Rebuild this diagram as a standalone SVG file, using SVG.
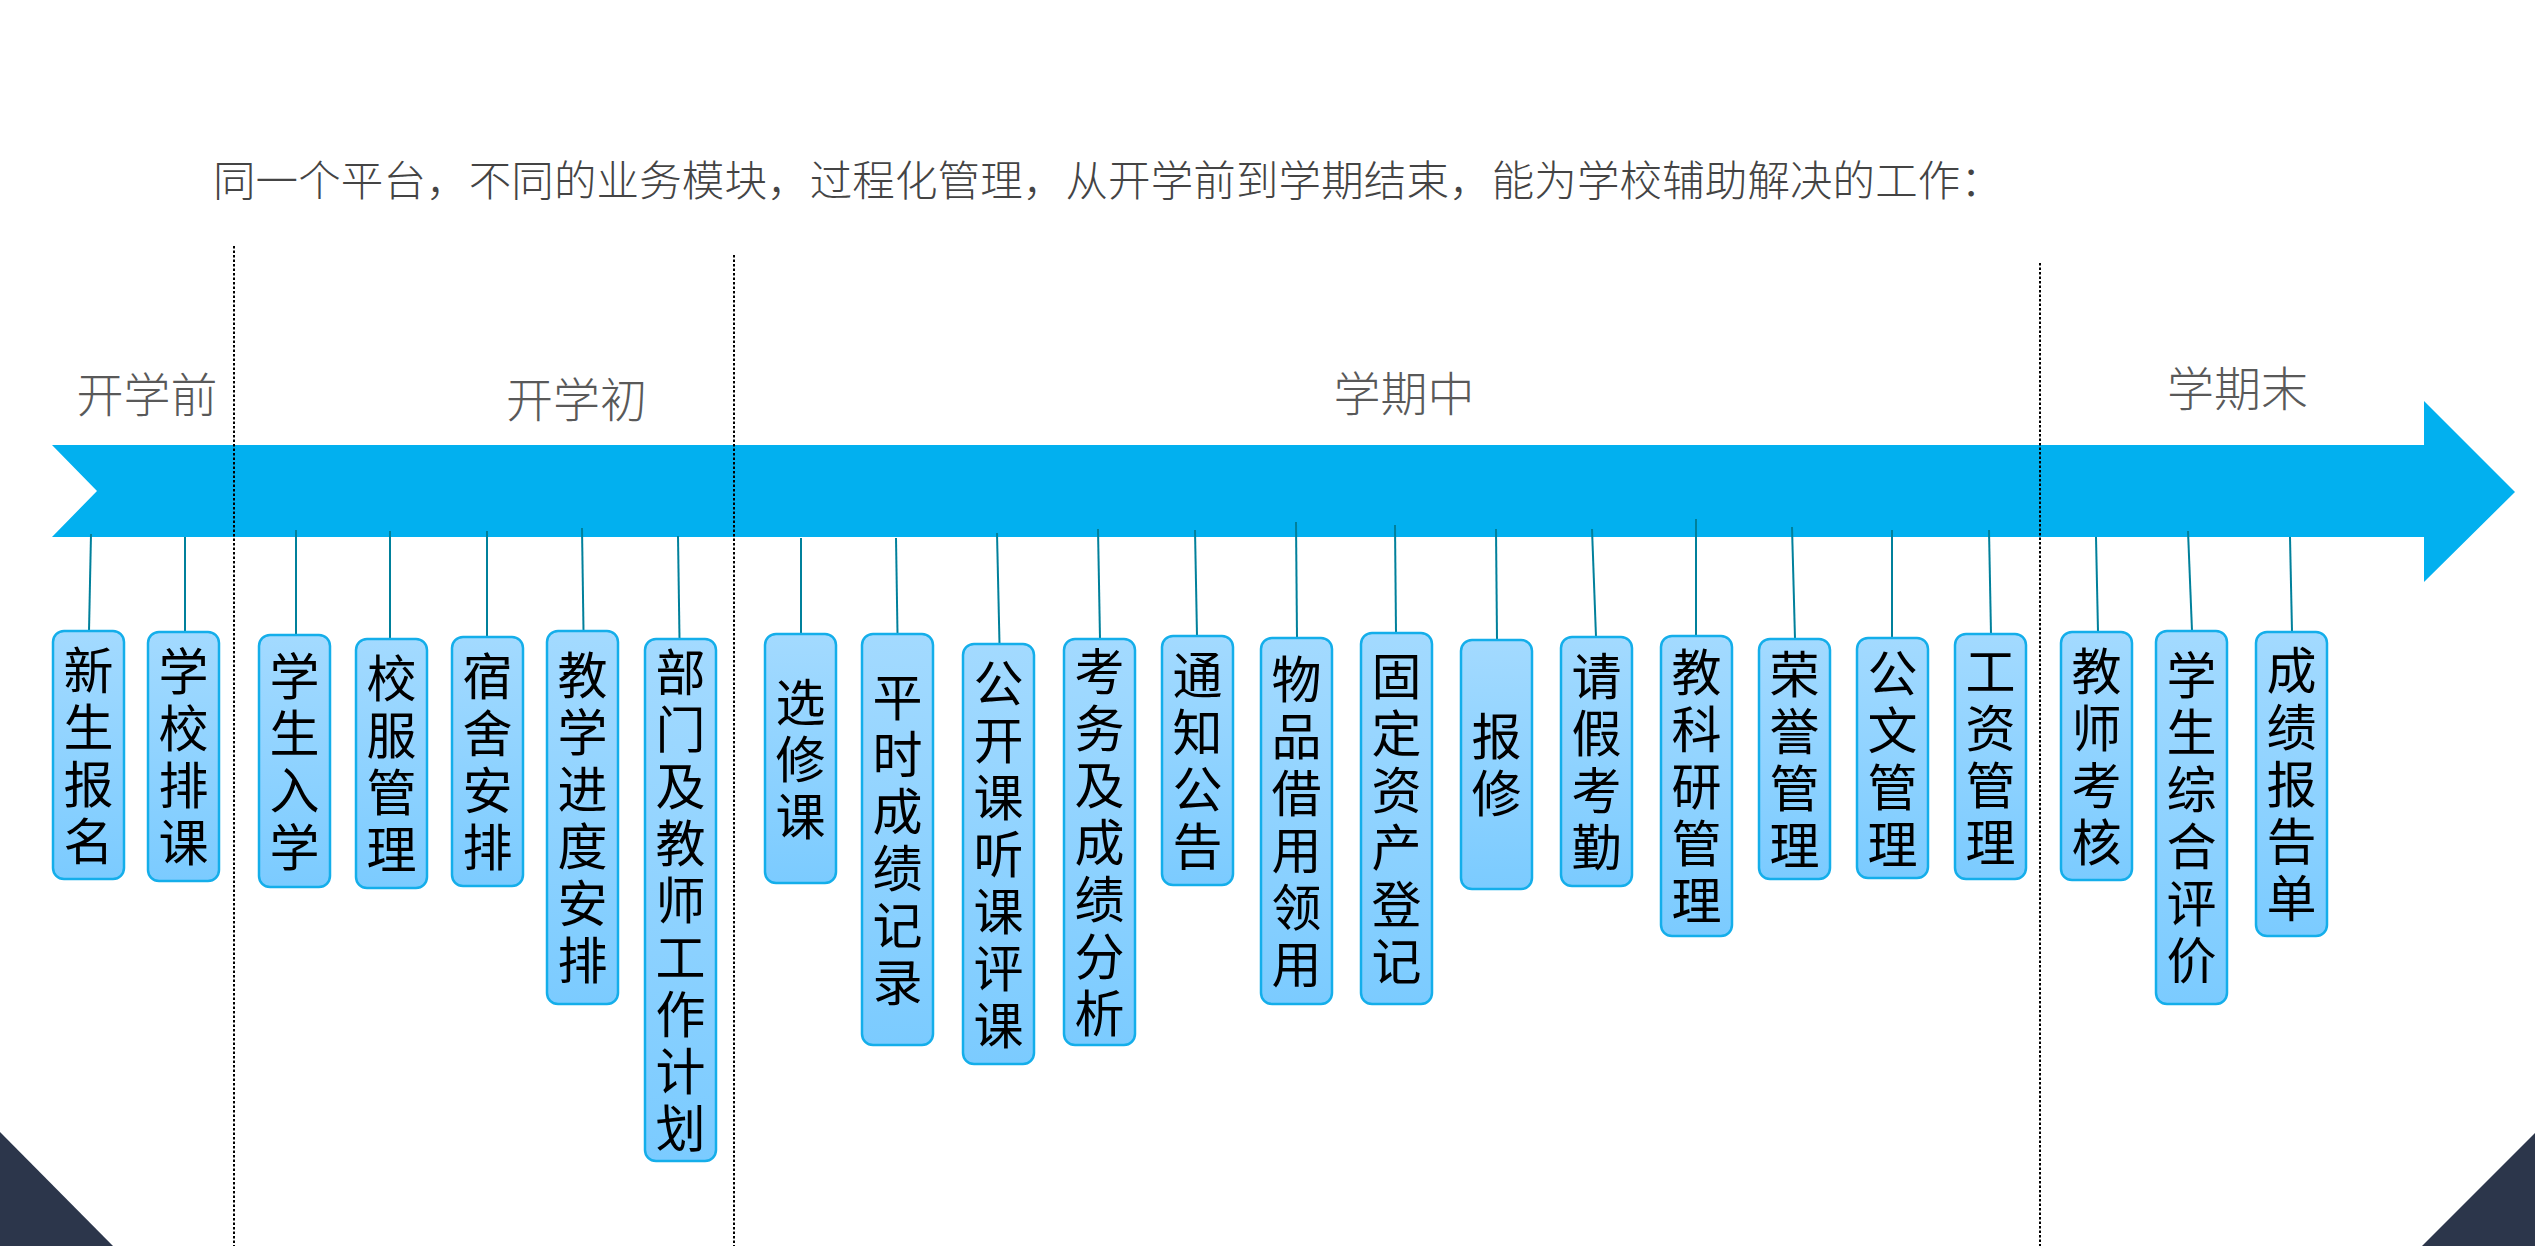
<svg xmlns="http://www.w3.org/2000/svg" width="2535" height="1246" viewBox="0 0 2535 1246">
<defs>
<linearGradient id="boxGrad" x1="0" y1="0" x2="0" y2="1">
<stop offset="0" stop-color="#A3DAFF"/>
<stop offset="1" stop-color="#7BCBFF"/>
</linearGradient>
<style>
.title{font-family:"Noto Sans CJK SC","Noto Sans",sans-serif;font-size:42.5px;font-weight:300;fill:#444;}
.phase{font-family:"Noto Sans CJK SC","Noto Sans",sans-serif;font-size:47px;font-weight:300;fill:#595959;text-anchor:middle;}
.box{fill:url(#boxGrad);stroke:#14AEEA;stroke-width:2.5;}
.lbl{font-family:"Noto Sans CJK SC","Noto Sans",sans-serif;font-size:50px;fill:#000;text-anchor:middle;}
.conn{stroke:#00809B;stroke-width:2;fill:none;}
.sep{stroke:#000;stroke-width:2;stroke-dasharray:2.5 2;fill:none;}
</style>
</defs>
<rect width="2535" height="1246" fill="#fff"/>
<polygon points="0,1132 113,1246 0,1246" fill="#2C364B"/>
<polygon points="2535,1133 2535,1246 2422,1246" fill="#2C364B"/>
<text class="title" x="213" y="196" textLength="1790" lengthAdjust="spacing">同一个平台，不同的业务模块，过程化管理，从开学前到学期结束，能为学校辅助解决的工作：</text>
<g id="phases">
<text class="phase" x="147" y="412">开学前</text>
<text class="phase" x="576.5" y="417">开学初</text>
<text class="phase" x="1404" y="411">学期中</text>
<text class="phase" x="2237.5" y="406">学期末</text>
</g>
<g id="timeline">
<polygon points="52,445 2424,445 2424,401 2515,492 2424,582 2424,537 52,537 97,491" fill="#02B0EF"/>
</g>
<g id="connectors">
<line class="conn" x1="91" y1="534" x2="89" y2="631"/>
<line class="conn" x1="185" y1="537" x2="185" y2="632"/>
<line class="conn" x1="296" y1="530" x2="296" y2="635"/>
<line class="conn" x1="390" y1="531" x2="390" y2="639"/>
<line class="conn" x1="487" y1="531" x2="487" y2="637"/>
<line class="conn" x1="582" y1="528" x2="583.5" y2="631"/>
<line class="conn" x1="678" y1="536" x2="679.5" y2="639"/>
<line class="conn" x1="801" y1="538" x2="801" y2="634"/>
<line class="conn" x1="896" y1="538" x2="897.5" y2="634"/>
<line class="conn" x1="997" y1="533" x2="999.5" y2="644"/>
<line class="conn" x1="1098" y1="529" x2="1100" y2="639"/>
<line class="conn" x1="1195" y1="530" x2="1197" y2="636"/>
<line class="conn" x1="1296" y1="522" x2="1297" y2="638"/>
<line class="conn" x1="1395" y1="525" x2="1396" y2="633"/>
<line class="conn" x1="1496" y1="529" x2="1497" y2="640"/>
<line class="conn" x1="1592" y1="529" x2="1596" y2="637"/>
<line class="conn" x1="1696" y1="519" x2="1696" y2="636"/>
<line class="conn" x1="1792" y1="527" x2="1795" y2="639"/>
<line class="conn" x1="1892" y1="530" x2="1892" y2="638"/>
<line class="conn" x1="1989" y1="530" x2="1991" y2="634"/>
<line class="conn" x1="2096" y1="537" x2="2098" y2="632"/>
<line class="conn" x1="2188" y1="531" x2="2192" y2="631"/>
<line class="conn" x1="2290" y1="537" x2="2292" y2="632"/>
</g>
<g id="separators">
<line class="sep" x1="234" y1="246" x2="234" y2="1246"/>
<line class="sep" x1="734" y1="255" x2="734" y2="1246"/>
<line class="sep" x1="2040" y1="263" x2="2040" y2="1246"/>
</g>
<g id="n1"><rect class="box" x="53" y="631" width="71" height="248" rx="11"/><text class="lbl" y="688.5"><tspan x="88.5">新</tspan><tspan x="88.5" dy="57">生</tspan><tspan x="88.5" dy="57">报</tspan><tspan x="88.5" dy="57">名</tspan></text></g>
<g id="n2"><rect class="box" x="148" y="632" width="71" height="249" rx="11"/><text class="lbl" y="690"><tspan x="183.5">学</tspan><tspan x="183.5" dy="57">校</tspan><tspan x="183.5" dy="57">排</tspan><tspan x="183.5" dy="57">课</tspan></text></g>
<g id="n3"><rect class="box" x="259" y="635" width="71" height="252" rx="11"/><text class="lbl" y="694.5"><tspan x="294.5">学</tspan><tspan x="294.5" dy="57">生</tspan><tspan x="294.5" dy="57">入</tspan><tspan x="294.5" dy="57">学</tspan></text></g>
<g id="n4"><rect class="box" x="356" y="639" width="71" height="249" rx="11"/><text class="lbl" y="697"><tspan x="391.5">校</tspan><tspan x="391.5" dy="57">服</tspan><tspan x="391.5" dy="57">管</tspan><tspan x="391.5" dy="57">理</tspan></text></g>
<g id="n5"><rect class="box" x="452" y="637" width="71" height="249" rx="11"/><text class="lbl" y="695"><tspan x="487.5">宿</tspan><tspan x="487.5" dy="57">舍</tspan><tspan x="487.5" dy="57">安</tspan><tspan x="487.5" dy="57">排</tspan></text></g>
<g id="n6"><rect class="box" x="547" y="631" width="71" height="373" rx="11"/><text class="lbl" y="694"><tspan x="582.5">教</tspan><tspan x="582.5" dy="57">学</tspan><tspan x="582.5" dy="57">进</tspan><tspan x="582.5" dy="57">度</tspan><tspan x="582.5" dy="57">安</tspan><tspan x="582.5" dy="57">排</tspan></text></g>
<g id="n7"><rect class="box" x="645" y="639" width="71" height="522" rx="11"/><text class="lbl" y="691"><tspan x="680.5">部</tspan><tspan x="680.5" dy="57">门</tspan><tspan x="680.5" dy="57">及</tspan><tspan x="680.5" dy="57">教</tspan><tspan x="680.5" dy="57">师</tspan><tspan x="680.5" dy="57">工</tspan><tspan x="680.5" dy="57">作</tspan><tspan x="680.5" dy="57">计</tspan><tspan x="680.5" dy="57">划</tspan></text></g>
<g id="n8"><rect class="box" x="765" y="634" width="71" height="249" rx="11"/><text class="lbl" y="720.5"><tspan x="800.5">选</tspan><tspan x="800.5" dy="57">修</tspan><tspan x="800.5" dy="57">课</tspan></text></g>
<g id="n9"><rect class="box" x="862" y="634" width="71" height="411" rx="11"/><text class="lbl" y="716"><tspan x="897.5">平</tspan><tspan x="897.5" dy="57">时</tspan><tspan x="897.5" dy="57">成</tspan><tspan x="897.5" dy="57">绩</tspan><tspan x="897.5" dy="57">记</tspan><tspan x="897.5" dy="57">录</tspan></text></g>
<g id="n10"><rect class="box" x="963" y="644" width="71" height="420" rx="11"/><text class="lbl" y="702"><tspan x="998.5">公</tspan><tspan x="998.5" dy="57">开</tspan><tspan x="998.5" dy="57">课</tspan><tspan x="998.5" dy="57">听</tspan><tspan x="998.5" dy="57">课</tspan><tspan x="998.5" dy="57">评</tspan><tspan x="998.5" dy="57">课</tspan></text></g>
<g id="n11"><rect class="box" x="1064" y="639" width="71" height="406" rx="11"/><text class="lbl" y="690"><tspan x="1099.5">考</tspan><tspan x="1099.5" dy="57">务</tspan><tspan x="1099.5" dy="57">及</tspan><tspan x="1099.5" dy="57">成</tspan><tspan x="1099.5" dy="57">绩</tspan><tspan x="1099.5" dy="57">分</tspan><tspan x="1099.5" dy="57">析</tspan></text></g>
<g id="n12"><rect class="box" x="1162" y="636" width="71" height="249" rx="11"/><text class="lbl" y="694"><tspan x="1197.5">通</tspan><tspan x="1197.5" dy="57">知</tspan><tspan x="1197.5" dy="57">公</tspan><tspan x="1197.5" dy="57">告</tspan></text></g>
<g id="n13"><rect class="box" x="1261" y="638" width="71" height="366" rx="11"/><text class="lbl" y="697.5"><tspan x="1296.5">物</tspan><tspan x="1296.5" dy="57">品</tspan><tspan x="1296.5" dy="57">借</tspan><tspan x="1296.5" dy="57">用</tspan><tspan x="1296.5" dy="57">领</tspan><tspan x="1296.5" dy="57">用</tspan></text></g>
<g id="n14"><rect class="box" x="1361" y="633" width="71" height="371" rx="11"/><text class="lbl" y="695"><tspan x="1396.5">固</tspan><tspan x="1396.5" dy="57">定</tspan><tspan x="1396.5" dy="57">资</tspan><tspan x="1396.5" dy="57">产</tspan><tspan x="1396.5" dy="57">登</tspan><tspan x="1396.5" dy="57">记</tspan></text></g>
<g id="n15"><rect class="box" x="1461" y="640" width="71" height="249" rx="11"/><text class="lbl" y="755"><tspan x="1496.5">报</tspan><tspan x="1496.5" dy="57">修</tspan></text></g>
<g id="n16"><rect class="box" x="1561" y="637" width="71" height="249" rx="11"/><text class="lbl" y="695"><tspan x="1596.5">请</tspan><tspan x="1596.5" dy="57">假</tspan><tspan x="1596.5" dy="57">考</tspan><tspan x="1596.5" dy="57">勤</tspan></text></g>
<g id="n17"><rect class="box" x="1661" y="636" width="71" height="300" rx="11"/><text class="lbl" y="691"><tspan x="1696.5">教</tspan><tspan x="1696.5" dy="57">科</tspan><tspan x="1696.5" dy="57">研</tspan><tspan x="1696.5" dy="57">管</tspan><tspan x="1696.5" dy="57">理</tspan></text></g>
<g id="n18"><rect class="box" x="1759" y="639" width="71" height="240" rx="11"/><text class="lbl" y="692.5"><tspan x="1794.5">荣</tspan><tspan x="1794.5" dy="57">誉</tspan><tspan x="1794.5" dy="57">管</tspan><tspan x="1794.5" dy="57">理</tspan></text></g>
<g id="n19"><rect class="box" x="1857" y="638" width="71" height="240" rx="11"/><text class="lbl" y="691.5"><tspan x="1892.5">公</tspan><tspan x="1892.5" dy="57">文</tspan><tspan x="1892.5" dy="57">管</tspan><tspan x="1892.5" dy="57">理</tspan></text></g>
<g id="n20"><rect class="box" x="1955" y="634" width="71" height="245" rx="11"/><text class="lbl" y="690"><tspan x="1990.5">工</tspan><tspan x="1990.5" dy="57">资</tspan><tspan x="1990.5" dy="57">管</tspan><tspan x="1990.5" dy="57">理</tspan></text></g>
<g id="n21"><rect class="box" x="2061" y="632" width="71" height="248" rx="11"/><text class="lbl" y="689.5"><tspan x="2096.5">教</tspan><tspan x="2096.5" dy="57">师</tspan><tspan x="2096.5" dy="57">考</tspan><tspan x="2096.5" dy="57">核</tspan></text></g>
<g id="n22"><rect class="box" x="2156" y="631" width="71" height="373" rx="11"/><text class="lbl" y="694"><tspan x="2191.5">学</tspan><tspan x="2191.5" dy="57">生</tspan><tspan x="2191.5" dy="57">综</tspan><tspan x="2191.5" dy="57">合</tspan><tspan x="2191.5" dy="57">评</tspan><tspan x="2191.5" dy="57">价</tspan></text></g>
<g id="n23"><rect class="box" x="2256" y="632" width="71" height="304" rx="11"/><text class="lbl" y="689"><tspan x="2291.5">成</tspan><tspan x="2291.5" dy="57">绩</tspan><tspan x="2291.5" dy="57">报</tspan><tspan x="2291.5" dy="57">告</tspan><tspan x="2291.5" dy="57">单</tspan></text></g>
</svg>
